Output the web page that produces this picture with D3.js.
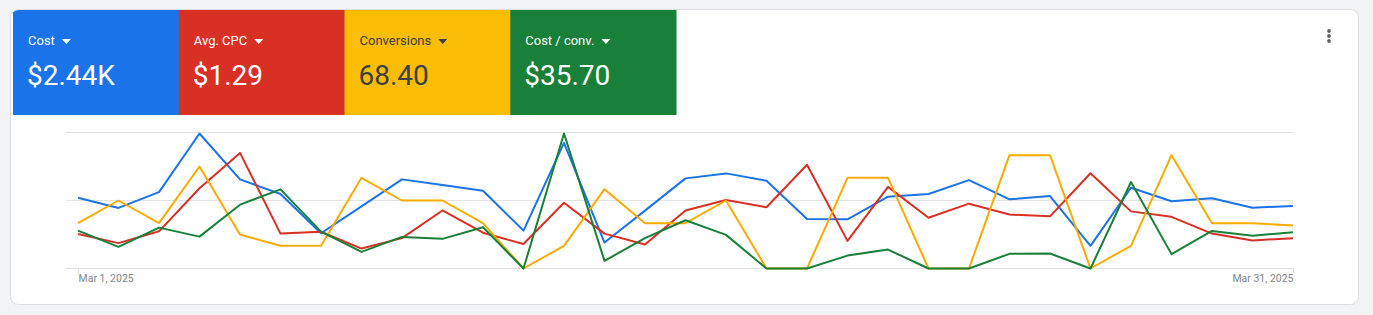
<!DOCTYPE html>
<html lang="en">
<head>
  <meta charset="UTF-8">
  <title>Ads overview</title>
  <script src="https://d3js.org/d3.v7.min.js"></script>
  <style>
    html, body {
      margin: 0;
      padding: 0;
      background: #f1f3f4;
    }
    #container {
      width: 1373px;
      height: 315px;
    }
    text {
      font-family: Roboto, "Noto Sans", Arial, sans-serif;
    }
    .grid line {
      stroke: #e3e3e3;
      stroke-width: 1.2;
    }
    .series {
      fill: none;
      stroke-width: 2;
      stroke-linejoin: round;
    }
  </style>
</head>
<body>
  <div id="container"></div>

  <script>
    const width = 1373;
    const height = 315;

    // one value per day, Mar 1 .. Mar 31 2025
    const startDate = new Date(2025, 2, 1);
    const endDate = new Date(2025, 2, 31);

    const cost = [78.1, 66.8, 84.3, 148.9, 98.3, 82.1, 38.9, 68.6, 98.3, 92.0,
                  85.8, 41.8, 138.6, 28.6, 63.8, 99.4, 104.9, 96.8, 54.7, 54.3,
                  79.2, 82.1, 97.5, 76.3, 79.9, 25.0, 89.1, 74.1, 77.4, 67.1, 69.0];
    const avgCpc = [0.76, 0.56, 0.82, 1.77, 2.55, 0.77, 0.81, 0.44, 0.67, 1.28,
                    0.79, 0.54, 1.45, 0.77, 0.53, 1.28, 1.51, 1.35, 2.29, 0.61,
                    1.80, 1.12, 1.43, 1.19, 1.15, 2.10, 1.26, 1.14, 0.77, 0.62, 0.67];
    const conversions = [2, 3, 2, 4.5, 1.5, 1, 1, 4, 3, 3,
                         2, 0, 1, 3.5, 2, 2, 3, 0, 0, 4,
                         4, 0, 0, 5, 5, 0, 1, 5, 2, 2, 1.9];
    const costPerConv = [39.0, 22.3, 42.1, 32.8, 65.7, 81.5, 38.0, 17.1, 32.5, 30.5,
                         42.5, 0, 139.0, 7.9, 31.2, 49.7, 34.6, 0, 0, 13.3,
                         19.5, 0, 0, 15.1, 15.4, 0, 89.0, 14.8, 38.7, 33.6, 37.4];

    const metricNames = ['Cost', 'Avg. CPC', 'Conversions', 'Cost / conv.'];
    const metricTotals = ['$2.44K', '$1.29', '68.40', '$35.70'];
    const axisMax = [150, 3, 6, 140];
    const xTickLabels = ['Mar 1, 2025', 'Mar 31, 2025'];

    const seriesColors = ['#1a73e8', '#d93025', '#f9ab00', '#188038'];
    const tileColors = ['#1a73e8', '#d93025', '#fbbc04', '#188038'];
    const tileText = ['#ffffff', '#ffffff', '#3c4043', '#ffffff'];

    const allSeries = [cost, avgCpc, conversions, costPerConv];
    const days = d3.timeDay.range(startDate, d3.timeDay.offset(endDate, 1));

    let svg = d3.select('#container').append('svg')
      .attr('width', width).attr('height', height);

    // card
    svg.append('rect')
      .attr('x', 10.5).attr('y', 9.5)
      .attr('width', 1348).attr('height', 295)
      .attr('rx', 8)
      .attr('fill', '#fff')
      .attr('stroke', '#dadce0');

    // metric tiles
    const tileX = d3.scaleBand().domain(d3.range(4)).range([13, 676]).paddingInner(0);
    svg.append('clipPath').attr('id', 'cardClip')
      .append('rect').attr('x', 11).attr('y', 10).attr('width', 1347).attr('height', 294).attr('rx', 8);

    const tiles = svg.append('g').attr('clip-path', 'url(#cardClip)')
      .selectAll('g').data(metricNames).join('g')
      .attr('transform', (d, i) => `translate(${tileX(i)},10)`);

    tiles.append('rect')
      .attr('width', tileX.bandwidth() + 0.5)
      .attr('height', 105)
      .attr('fill', (d, i) => tileColors[i]);

    tiles.append('text')
      .attr('x', 15).attr('y', 35)
      .attr('font-size', 13)
      .attr('fill', (d, i) => tileText[i])
      .text(d => d)
      .each(function(d, i) {
        const w = this.getComputedTextLength();
        d3.select(this.parentNode).append('path')
          .attr('d', `M${15 + w + 7},29 l9,0 l-4.5,5 z`)
          .attr('fill', tileText[i]);
      });

    tiles.append('text')
      .attr('x', 14).attr('y', 75)
      .attr('font-size', 28)
      .attr('fill', (d, i) => tileText[i])
      .text((d, i) => metricTotals[i]);

    // kebab menu
    svg.append('g').selectAll('circle').data([0, 1, 2]).join('circle')
      .attr('cx', 1329).attr('cy', d => 31 + d * 5)
      .attr('r', 1.9)
      .attr('fill', '#5f6368');

    // chart
    const xScale = d3.scaleTime().domain([startDate, endDate]).range([78, 1293]);
    const yRange = [268.5, 132.5];

    const grid = svg.append('g').attr('class', 'grid');
    grid.selectAll('line').data([0, 0.5, 1]).join('line')
      .attr('x1', 66).attr('x2', 1293)
      .attr('y1', d => d3.scaleLinear().range(yRange)(d))
      .attr('y2', d => d3.scaleLinear().range(yRange)(d));

    // end ticks and labels
    const xAxis = d3.axisBottom(xScale)
      .tickValues([startDate, endDate])
      .tickSize(5)
      .tickFormat((d, i) => xTickLabels[i]);

    const axisG = svg.append('g')
      .attr('transform', `translate(0,${yRange[0]})`)
      .call(xAxis);
    axisG.select('.domain').remove();
    axisG.selectAll('.tick line').attr('stroke', '#e0e0e0');
    axisG.selectAll('.tick text')
      .attr('font-family', 'Roboto, sans-serif')
      .attr('font-size', 10.5)
      .attr('fill', '#80868b')
      .attr('dy', '0.55em')
      .attr('text-anchor', (d, i) => i === 0 ? 'start' : 'end');

    // lines, each metric on its own scale
    [0, 1, 2, 3].forEach(i => {
      const yScale = d3.scaleLinear().domain([0, axisMax[i]]).range(yRange);
      const line = d3.line()
        .x((d, j) => xScale(days[j]))
        .y(d => yScale(d));
      svg.append('path')
        .datum(allSeries[i])
        .attr('class', 'series')
        .attr('stroke', seriesColors[i])
        .attr('d', line);
    });
  </script>
</body>
</html>
